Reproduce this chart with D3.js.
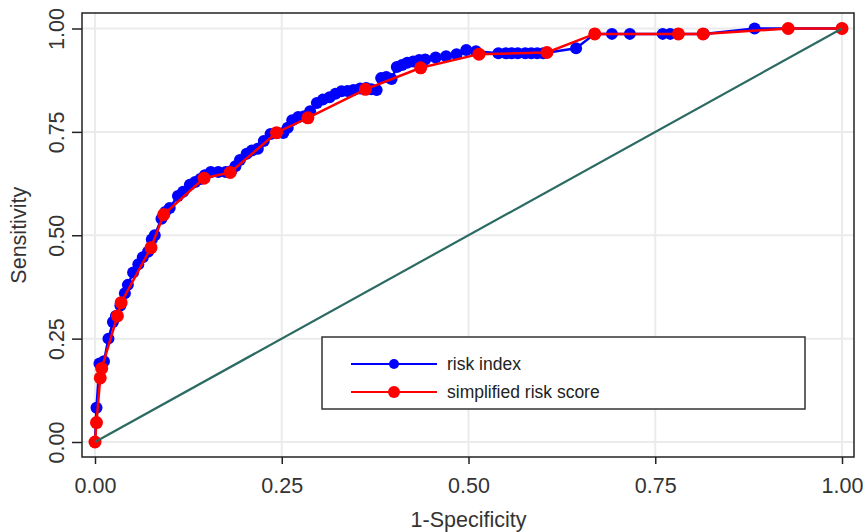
<!DOCTYPE html>
<html><head><meta charset="utf-8">
<script src="https://cdn.jsdelivr.net/npm/d3@7"></script>
<style>body{margin:0;background:#fff}svg{display:block}text{font-family:"Liberation Sans",Arial,sans-serif}</style>
</head><body><svg id="c" width="863" height="532"></svg>
<script>
const xTicks = [0, 0.25, 0.5, 0.75, 1];
const yTicks = [0, 0.25, 0.5, 0.75, 1];
const xTitle = "1-Specificity";
const yTitle = "Sensitivity";
const seriesNames = ["risk index", "simplified risk score"];

const riskIndexX = [0,0.002,0.006,0.012,0.018,0.024,0.028,0.034,0.040,0.044,0.051,0.058,0.064,0.071,0.076,0.080,0.089,0.094,0.100,0.111,0.118,0.127,0.134,0.141,0.147,0.155,0.165,0.175,0.182,0.188,0.194,0.203,0.210,0.218,0.226,0.235,0.244,0.252,0.258,0.264,0.272,0.280,0.288,0.297,0.305,0.314,0.322,0.330,0.338,0.346,0.355,0.363,0.370,0.377,0.383,0.390,0.397,0.404,0.411,0.418,0.426,0.434,0.442,0.456,0.470,0.484,0.497,0.510,0.540,0.550,0.558,0.566,0.576,0.584,0.592,0.600,0.644,0.669,0.692,0.716,0.760,0.770,0.780,0.815,0.883,1.0];
const riskIndexY = [0,0.083,0.190,0.195,0.250,0.290,0.305,0.330,0.360,0.380,0.410,0.430,0.447,0.460,0.490,0.500,0.540,0.556,0.566,0.595,0.605,0.622,0.629,0.636,0.645,0.653,0.653,0.653,0.655,0.667,0.682,0.697,0.705,0.709,0.728,0.745,0.747,0.747,0.760,0.778,0.786,0.788,0.800,0.820,0.828,0.834,0.842,0.848,0.849,0.851,0.855,0.856,0.853,0.851,0.880,0.883,0.878,0.907,0.912,0.917,0.920,0.924,0.925,0.930,0.933,0.938,0.948,0.945,0.940,0.940,0.940,0.940,0.940,0.940,0.940,0.940,0.952,0.987,0.987,0.987,0.987,0.987,0.987,0.987,1.0,1.0];

const simpleX = [0,0.002,0.007,0.009,0.030,0.035,0.075,0.092,0.146,0.181,0.243,0.285,0.362,0.436,0.514,0.605,0.669,0.781,0.814,0.928,1];
const simpleY = [0,0.047,0.155,0.178,0.305,0.337,0.470,0.550,0.638,0.652,0.748,0.784,0.853,0.905,0.938,0.942,0.987,0.987,0.987,1.0,1.0];

const svg = d3.select("#c");
const x = d3.scaleLinear().domain([0,1]).range([95,842]);
const y = d3.scaleLinear().domain([0,1]).range([442,28.5]);
const frame = {l:82, r:854, t:13, b:457};

// gridlines
const g = svg.append("g");
g.selectAll(".vg").data(xTicks).join("line")
  .attr("x1", d=>x(d)).attr("x2", d=>x(d)).attr("y1", frame.t).attr("y2", frame.b)
  .attr("stroke","#ebebeb").attr("stroke-width",2);
g.selectAll(".hg").data(yTicks).join("line")
  .attr("y1", d=>y(d)).attr("y2", d=>y(d)).attr("x1", frame.l).attr("x2", frame.r)
  .attr("stroke","#ebebeb").attr("stroke-width",2);

// axes
const xa = svg.append("g").attr("transform",`translate(0,${frame.b})`)
  .call(d3.axisBottom(x).tickValues(xTicks).tickFormat(d3.format(".2f")).tickSize(7).tickPadding(14));
const ya = svg.append("g").attr("transform",`translate(${frame.l},0)`)
  .call(d3.axisLeft(y).tickValues(yTicks).tickFormat(d3.format(".2f")).tickSize(10).tickPadding(6));
[xa,ya].forEach(a=>{a.select(".domain").remove();a.selectAll("line").attr("stroke","#222").attr("stroke-width",1.5);
  a.selectAll("text").attr("font-size",21.5).attr("fill","#333").attr("font-family","Liberation Sans, Arial, sans-serif");});
ya.selectAll("text").attr("text-anchor","middle").attr("dy",0).attr("x",0).attr("y",0)
  .attr("transform", "translate(-18,0) rotate(-90)");

svg.append("text").attr("x", (x(0)+x(1))/2).attr("y", 527).attr("text-anchor","middle")
  .attr("font-size",21.5).attr("fill","#333").text(xTitle);
svg.append("text").attr("transform",`translate(26,${(y(0)+y(1))/2}) rotate(-90)`).attr("text-anchor","middle")
  .attr("font-size",21.5).attr("fill","#333").text(yTitle);

// series
const blue = riskIndexX.map((v,i)=>[v,riskIndexY[i]]);
const red = simpleX.map((v,i)=>[v,simpleY[i]]);
const line = d3.line().x(d=>x(d[0])).y(d=>y(d[1]));
svg.append("path").datum(blue).attr("d",line).attr("fill","none").attr("stroke","#0000ff").attr("stroke-width",2.5);
svg.append("g").selectAll("circle").data(blue).join("circle")
  .attr("cx",d=>x(d[0])).attr("cy",d=>y(d[1])).attr("r",6).attr("fill","#0000ff");
svg.append("path").datum(red).attr("d",line).attr("fill","none").attr("stroke","#ff0000").attr("stroke-width",2.5);
svg.append("g").selectAll("circle").data(red).join("circle")
  .attr("cx",d=>x(d[0])).attr("cy",d=>y(d[1])).attr("r",6.5).attr("fill","#ff0000");

// diagonal reference
svg.append("line").attr("x1",x(0)).attr("y1",y(0)).attr("x2",x(1)).attr("y2",y(1))
  .attr("stroke","#2b6b62").attr("stroke-width",2.2);

// frame
svg.append("rect").attr("x",frame.l).attr("y",frame.t).attr("width",frame.r-frame.l).attr("height",frame.b-frame.t)
  .attr("fill","none").attr("stroke","#222").attr("stroke-width",1.5);

// legend
const lg = svg.append("g");
lg.append("rect").attr("x",322).attr("y",337).attr("width",483).attr("height",72)
  .attr("fill","#fff").attr("stroke","#333").attr("stroke-width",1.5);
const colors = ["#0000ff","#ff0000"];
const radii = [5,6];
seriesNames.forEach((n,i)=>{
  const yy = 364 + i*28;
  lg.append("line").attr("x1",351).attr("x2",437).attr("y1",yy).attr("y2",yy).attr("stroke",colors[i]).attr("stroke-width",2);
  lg.append("circle").attr("cx",394).attr("cy",yy).attr("r",radii[i]).attr("fill",colors[i]);
  lg.append("text").attr("x",447).attr("y",yy+6).attr("font-size",17.5).attr("fill","#222").text(n);
});
</script></body></html>
